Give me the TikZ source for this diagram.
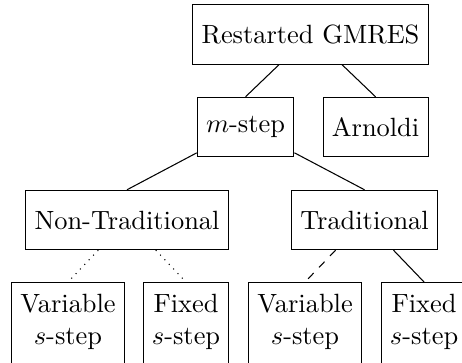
\documentclass[tikz,border=0pt]{standalone}
\usepackage{amsmath}
\usepackage{tikz}
\usetikzlibrary{positioning}

\begin{document}
\begin{tikzpicture}[
    method box/.style={draw, minimum height=22.5pt, align=center},
    variant box/.style={draw, align=center, anchor=north, inner ysep=4.5pt, text depth=3pt},
    weak link/.style={dotted},
    open link/.style={dashed}
]

% Frame of the picture (the lowest boxes run past it)
\clip (0,0) rectangle (6.151,-4.820);

% Top of the tree
\node[method box] (gmres) at (4.134,-0.459) {Restarted GMRES};

% Second level
\node[method box] (mstep) at (3.269,-1.691) {$m$-step};
\node[method box] (arnoldi) at (5.000,-1.691) {Arnoldi};

% Third level
\node[method box] (nontrad) at (1.691,-2.929) {Non-Traditional};
\node[method box] (trad) at (4.853,-2.929) {Traditional};

% Lowest level - tops of the boxes at the same height
\node[variant box] (varnon) at (0.905,-3.755) {Variable\\$s$-step};
\node[variant box] (fixnon) at (2.477,-3.755) {Fixed\\$s$-step};
\node[variant box] (vartrad) at (4.061,-3.755) {Variable\\$s$-step};
\node[variant box] (fixtrad) at (5.646,-3.755) {Fixed\\$s$-step};

% Links from each parent to the top of its children
\draw (gmres) -- (mstep.north);
\draw (gmres) -- (arnoldi.north);
\draw (mstep) -- (nontrad.north);
\draw (mstep) -- (trad.north);
\draw[weak link] (nontrad) -- (varnon.north);
\draw[weak link] (nontrad) -- (fixnon.north);
\draw[open link] (trad) -- (vartrad.north);
\draw (trad) -- (fixtrad.north);

\end{tikzpicture}
\end{document}
